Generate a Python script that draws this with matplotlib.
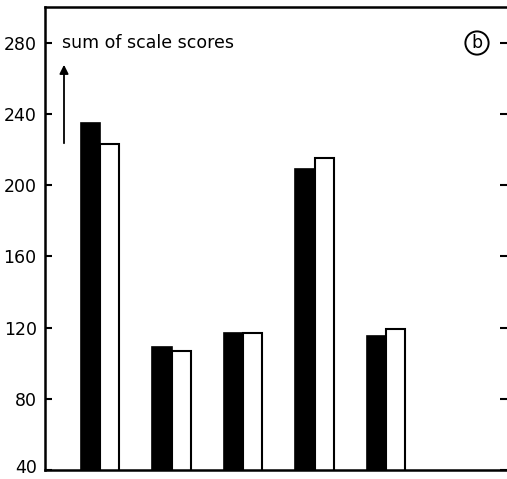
import matplotlib
matplotlib.use("Agg")
import matplotlib.pyplot as plt
import matplotlib.transforms as mtransforms
import numpy as np

groups = [1, 2, 3, 4, 5]
black_vals = [235, 109, 117, 209, 115]
white_vals = [223, 107, 117, 215, 119]
yticks = [40, 80, 120, 160, 200, 240, 280]

fig = plt.figure(figsize=(5.07, 4.79), dpi=100)
W, H = 507, 479
ax = fig.add_axes([45 / W, 1 - 470 / H, (507 - 45) / W, (470 - 7) / H])

x = np.array(groups, dtype=float)
bw = 0.27
ax.bar(x - bw / 2, black_vals, width=bw, bottom=0, color="black", edgecolor="black", linewidth=1.2)
ax.bar(x + bw / 2, white_vals, width=bw, bottom=0, color="white", edgecolor="black", linewidth=1.5)

ax.set_xlim(0.23, 6.69)
ax.set_ylim(40, 300)
ax.set_yticks(yticks)
ax.set_yticklabels([str(t) for t in yticks], fontsize=12.5)
ax.set_xticks([])
ax.spines["right"].set_visible(False)
for s in ["left", "bottom", "top"]:
    ax.spines[s].set_linewidth(1.8)
ax.tick_params(axis="y", direction="in", length=5, width=1.5, right=True, pad=6)

# nudge the bottom label up so it stays inside the figure
lbl = ax.get_yticklabels()[0]
lbl.set_transform(lbl.get_transform() + mtransforms.ScaledTranslation(0, 4 / 100, fig.dpi_scale_trans))

fig.text(62 / W, 1 - 43 / H, "sum of scale scores", fontsize=12.5, va="center", ha="left")
ax.annotate("", xy=(64 / W, 1 - 62 / H), xytext=(64 / W, 1 - 146 / H),
            xycoords="figure fraction", textcoords="figure fraction",
            arrowprops=dict(arrowstyle="-|>", color="black", lw=1.3, mutation_scale=13))
fig.text(477 / W, 1 - 43 / H, "b", fontsize=12.5, va="center", ha="center",
         bbox=dict(boxstyle="circle,pad=0.15", fc="white", ec="black", lw=1.4))

fig.savefig("out.png", dpi=100)
